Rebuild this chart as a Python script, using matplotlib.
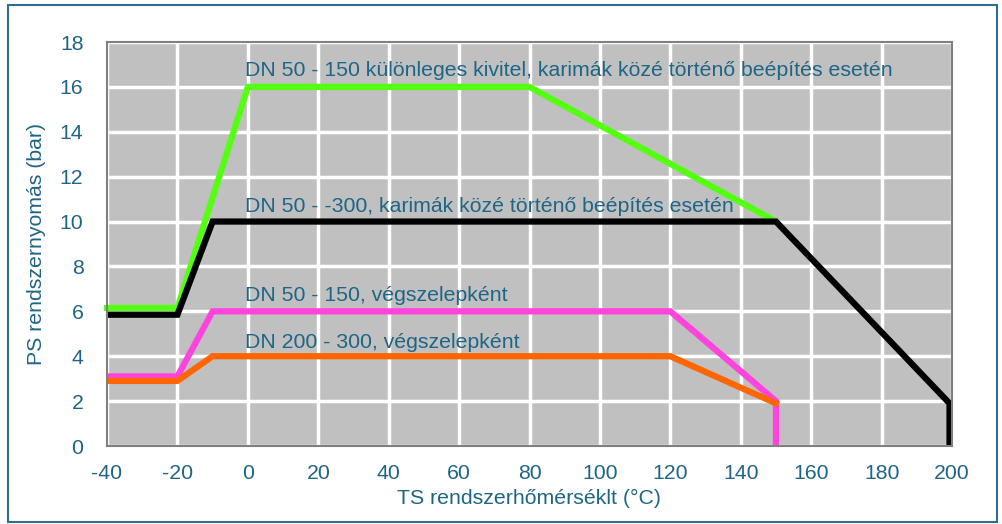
import matplotlib.pyplot as plt
from matplotlib.patches import Rectangle

plt.rcParams['font.family'] = ['Liberation Sans', 'DejaVu Sans']
plt.rcParams['axes.unicode_minus'] = False

TEXT = '#1f6585'
FS = 15.3

# curves (TS in °C, PS in bar)
green_x = [-40, -20, 0, 80, 150]
green_y = [6.15, 6.15, 16, 16, 10]
black_x = [-40, -20, -10, 150, 199.3, 199.3]
black_y = [5.85, 5.85, 10, 10, 1.9, 0]
pink_x = [-40, -20, -10, 120, 150, 150]
pink_y = [3.1, 3.1, 6, 6, 2, 0]
orange_x = [-40, -20, -10, 120, 150]
orange_y = [2.9, 2.9, 4, 4, 1.9]

# curve captions, placed by their baseline
labels = [
    (-0.8, 16.49, 'DN 50 - 150 különleges kivitel, karimák közé történő beépítés esetén'),
    (-0.8, 10.43, 'DN 50 - -300, karimák közé történő beépítés esetén'),
    (-0.8, 6.47, 'DN 50 - 150, végszelepként'),
    (-0.8, 4.37, 'DN 200 - 300, végszelepként'),
]

x_ticks = list(range(-40, 201, 20))
y_ticks = list(range(0, 19, 2))

fig = plt.figure(figsize=(10.03, 5.24), dpi=100)
fig.patches.append(Rectangle((8 / 1003, 1 - 522 / 524), 989 / 1003, 517 / 524,
                             transform=fig.transFigure, fill=False,
                             edgecolor='#2e6e8e', linewidth=1.5))

ax = fig.add_axes([107 / 1003, 1 - 446 / 524, 845 / 1003, 404 / 524])
ax.set_facecolor('#c0c0c0')
ax.set_xlim(-40, 200)
ax.set_ylim(0, 18)
ax.set_xticks(x_ticks)
ax.set_yticks(y_ticks)
ax.grid(True, color='white', linewidth=2.5)
ax.set_axisbelow(True)
for s in ax.spines.values():
    s.set_color('#808080')
    s.set_linewidth(1.5)
ax.tick_params(length=0, labelsize=FS, colors=TEXT)
ax.tick_params(axis='x', pad=13)
ax.tick_params(axis='y', pad=17)

lw = 4.5
ax.plot(green_x, green_y, color='#55ff11', lw=lw, solid_joinstyle='miter', clip_on=False)
ax.plot(black_x, black_y, color='black', lw=lw, solid_joinstyle='miter')
ax.plot(pink_x, pink_y, color='#ff44dd', lw=lw, solid_joinstyle='miter')
ax.plot(orange_x, orange_y, color='#ff6600', lw=lw, solid_joinstyle='miter')

for x, y, t in labels:
    ax.text(x, y, t, color=TEXT, fontsize=FS, va='baseline', ha='left')

ax.set_xlabel('TS rendszerhőmérséklt (°C)', color=TEXT, fontsize=FS, labelpad=4)
ax.set_ylabel('PS rendszernyomás (bar)', color=TEXT, fontsize=FS, labelpad=10)

fig.savefig('out.png', dpi=100)
